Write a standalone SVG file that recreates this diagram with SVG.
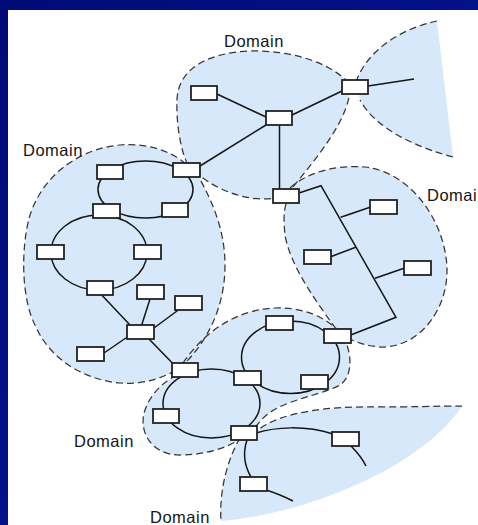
<svg xmlns="http://www.w3.org/2000/svg" width="478" height="525" viewBox="0 0 478 525">
  <defs>
    <linearGradient id="bg" x1="0" y1="0" x2="1" y2="1">
      <stop offset="0" stop-color="#000b76"/>
      <stop offset="0.5" stop-color="#03118a"/>
      <stop offset="1" stop-color="#000a70"/>
    </linearGradient>
    <style>
      .fill { fill: #d6e8f9; stroke: none; }
      .edge { fill: none; stroke: #353535; stroke-width: 1.25; stroke-dasharray: 7 4; }
      .link { fill: none; stroke: #151515; stroke-width: 1.5; }
      .node rect { fill: #ffffff; stroke: #222222; stroke-width: 1.8; }
      .label { font-family: "Liberation Sans", Arial, sans-serif; font-size: 16.5px; letter-spacing: 0.5px; fill: #151515; }
    </style>
  </defs>

  <!-- frame -->
  <rect x="0" y="0" width="478" height="525" fill="url(#bg)"/>
  <rect x="8" y="10" width="470" height="515" fill="#ffffff"/>

  <!-- domain areas -->
  <g id="domains">
    <path id="domain-top" class="fill" d="M 188,165 C 180,150 176,120 177,100 C 178,70 205,53 250,51 C 290,50 330,62 350,84 C 352,115 320,155 286,195 C 260,205 225,195 200,176 Z"/>
    <path id="domain-left" class="fill" d="M 186,164 C 170,150 145,143 120,145 C 85,148 45,170 30,215 C 20,250 22,300 35,325 C 50,360 85,380 120,383 C 145,385 165,377 180,368 C 205,345 225,310 225,265 C 225,230 212,200 196,172 Z"/>
    <path id="domain-right" class="fill" d="M 290,188 C 310,170 340,165 365,167 C 410,172 445,220 447,268 C 448,310 420,345 385,347 C 370,347 358,343 350,339 L 336,329 C 315,300 290,265 285,235 C 283,215 284,205 290,195 Z"/>
    <path id="domain-lower" class="fill" d="M 183,363 C 200,338 230,310 275,308 C 305,307 325,318 338,330 C 352,345 355,375 340,385 C 315,398 275,400 258,424 C 240,445 210,455 180,455 C 150,455 138,430 145,410 C 150,395 162,383 175,376 Z"/>
    <path id="domain-fan-top" class="fill" d="M 356,82 C 365,55 395,30 437,21 L 453,157 C 415,147 375,128 360,100 Z"/>
    <path id="domain-fan-bottom" class="fill" d="M 240,438 C 228,458 219,490 221,521 C 300,515 420,470 462,406 C 440,406 410,407 375,407 C 330,406 280,412 258,430 Z"/>

    <!-- dashed boundaries -->
    <path class="edge" d="M 188,165 C 180,150 176,120 177,100 C 178,70 205,53 250,51 C 290,50 330,62 350,84 C 352,115 320,155 286,195 C 260,205 225,195 200,176"/>
    <path class="edge" d="M 186,164 C 170,150 145,143 120,145 C 85,148 45,170 30,215 C 20,250 22,300 35,325 C 50,360 85,380 120,383 C 145,385 165,377 180,368 C 205,345 225,310 225,265 C 225,230 212,200 196,172"/>
    <path class="edge" d="M 290,188 C 310,170 340,165 365,167 C 410,172 445,220 447,268 C 448,310 420,345 385,347 C 370,347 358,343 350,339 M 336,329 C 315,300 290,265 285,235 C 283,215 284,205 290,195"/>
    <path class="edge" d="M 183,363 C 200,338 230,310 275,308 C 305,307 325,318 338,330 C 352,345 355,375 340,385 C 315,398 275,400 258,424 C 240,445 210,455 180,455 C 150,455 138,430 145,410 C 150,395 162,383 175,376"/>
    <path class="edge" d="M 356,82 C 365,55 395,30 437,21 M 453,157 C 415,147 375,128 360,100"/>
    <path class="edge" d="M 240,438 C 228,458 219,490 221,521 M 462,406 C 440,406 410,407 375,407 C 330,406 280,412 258,430"/>
  </g>

  <!-- connectors -->
  <g id="connectors">
    <ellipse class="link" cx="145.5" cy="189.5" rx="47.5" ry="28.5"/>
    <ellipse class="link" cx="99" cy="252.5" rx="48" ry="37.5"/>
    <ellipse class="link" cx="290.5" cy="357.3" rx="49" ry="36.3"/>
    <ellipse class="link" cx="211.5" cy="403.5" rx="48.5" ry="34.5"/>

    <line class="link" x1="200" y1="166" x2="266" y2="125"/>
    <line class="link" x1="217" y1="94" x2="266" y2="117"/>
    <line class="link" x1="292" y1="115" x2="342" y2="91"/>
    <line class="link" x1="279.5" y1="125" x2="279.5" y2="189"/>
    <line class="link" x1="368" y1="86" x2="414" y2="79"/>

    <line class="link" x1="101.7" y1="295" x2="130" y2="325"/>
    <line class="link" x1="150" y1="299" x2="141.7" y2="325"/>
    <line class="link" x1="178.3" y1="310" x2="154" y2="328"/>
    <line class="link" x1="104" y1="353" x2="127.3" y2="337"/>
    <line class="link" x1="149" y1="339" x2="173.3" y2="364"/>

    <polyline class="link" points="299,193 321,185.7 396,317.3 350.7,335"/>
    <line class="link" x1="370" y1="207.3" x2="340.7" y2="217.3"/>
    <line class="link" x1="330.7" y1="256.7" x2="355.7" y2="247.3"/>
    <line class="link" x1="404" y1="268.3" x2="375" y2="278.3"/>

    <path class="link" d="M 256,433 C 275,427 305,425 333,434"/>
    <path class="link" d="M 351,446 C 357,452 362,458 366,466"/>
    <path class="link" d="M 247,440 C 243,452 244,465 251,477"/>
    <path class="link" d="M 266,490 C 276,493 285,497 293,501"/>
  </g>

  <!-- routers -->
  <g id="n-t1" class="node"><rect x="191" y="86" width="26" height="14"/></g>
  <g id="n-t2" class="node"><rect x="266" y="111" width="26" height="14"/></g>
  <g id="n-t3" class="node"><rect x="342" y="80" width="26" height="14"/></g>
  <g id="n-t4" class="node"><rect x="273" y="189" width="26" height="14"/></g>

  <g id="n-b" class="node"><rect x="173" y="163" width="27" height="14"/></g>
  <g id="n-a" class="node"><rect x="97" y="165" width="26" height="14"/></g>
  <g id="n-c" class="node"><rect x="93" y="204" width="27" height="14"/></g>
  <g id="n-d" class="node"><rect x="162" y="203" width="26" height="14"/></g>
  <g id="n-e" class="node"><rect x="37" y="245" width="27" height="14"/></g>
  <g id="n-f" class="node"><rect x="134" y="245" width="27" height="14"/></g>
  <g id="n-g" class="node"><rect x="87" y="281" width="26" height="14"/></g>
  <g id="n-h" class="node"><rect x="137" y="285" width="27" height="14"/></g>
  <g id="n-i" class="node"><rect x="175" y="296" width="27" height="14"/></g>
  <g id="n-j" class="node"><rect x="127" y="325" width="27" height="14"/></g>
  <g id="n-k" class="node"><rect x="77" y="347" width="27" height="14"/></g>
  <g id="n-l" class="node"><rect x="172" y="363" width="26" height="14"/></g>

  <g id="n-o" class="node"><rect x="370" y="200" width="27" height="14"/></g>
  <g id="n-p" class="node"><rect x="304" y="250" width="27" height="14"/></g>
  <g id="n-q" class="node"><rect x="404" y="261" width="27" height="14"/></g>
  <g id="n-n" class="node"><rect x="324" y="329" width="27" height="14"/></g>

  <g id="n-r" class="node"><rect x="266" y="316" width="27" height="14"/></g>
  <g id="n-s" class="node"><rect x="234" y="371" width="27" height="14"/></g>
  <g id="n-t" class="node"><rect x="301" y="375" width="27" height="14"/></g>
  <g id="n-u" class="node"><rect x="153" y="409" width="26" height="14"/></g>
  <g id="n-v" class="node"><rect x="231" y="426" width="26" height="14"/></g>
  <g id="n-w" class="node"><rect x="332" y="432" width="27" height="14"/></g>
  <g id="n-x" class="node"><rect x="240" y="477" width="27" height="14"/></g>

  <!-- labels -->
  <g id="labels">
    <text class="label" x="224" y="47">Domain</text>
    <text class="label" x="23" y="156">Domain</text>
    <text class="label" x="427" y="201">Domai</text>
    <text class="label" x="74" y="447">Domain</text>
    <text class="label" x="150" y="523">Domain</text>
  </g>
</svg>
